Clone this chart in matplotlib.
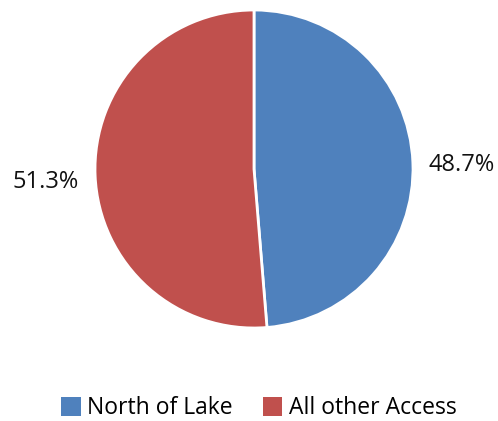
import matplotlib.pyplot as plt
from matplotlib.patches import Patch

labels = ["North of Lake", "All other Access"]
values = [48.7, 51.3]
colors = ["#4F81BD", "#C0504D"]

plt.rcParams['font.family'] = ['Open Sans', 'DejaVu Sans']

fig = plt.figure(figsize=(4.98, 4.21), dpi=100)
# pie area: centre (254,169) px, radius 159 px
ax = fig.add_axes([(254 - 159) / 498, (252 - 159) / 421, 318 / 498, 318 / 421])
wedges, texts, autotexts = ax.pie(
    values, colors=colors, startangle=90, counterclock=False,
    autopct='%.1f%%', pctdistance=1.31, radius=1,
    wedgeprops=dict(edgecolor='white', linewidth=2),
    textprops=dict(fontsize=17, color='#111111'))
for t in autotexts:
    x, y = t.get_position()
    t.set_position((x, y - 0.03))
ax.set_xlim(-1, 1)
ax.set_ylim(-1, 1)
ax.set_aspect('equal')
ax.axis('off')

handles = [Patch(facecolor=c, edgecolor='none') for c in colors]
fig.legend(handles, labels, loc='center', bbox_to_anchor=(0.52, 0.03),
           ncol=2, frameon=False, fontsize=16.5, handlelength=0.85,
           handleheight=0.85, handletextpad=0.3, columnspacing=1.3,
           borderpad=0)

fig.savefig('out.png', dpi=100)
